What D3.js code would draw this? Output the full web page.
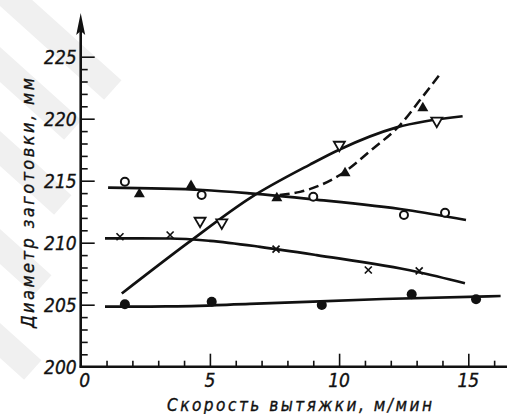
<!DOCTYPE html>
<html>
<head>
<meta charset="utf-8">
<script src="https://cdn.jsdelivr.net/npm/d3@7"></script>
<style>
  body { margin: 0; background: #fff; }
  svg { display: block; }
  text { font-family: "DejaVu Sans Condensed", "DejaVu Sans", sans-serif; font-style: italic; fill: #111; stroke: #111; stroke-width: 0.35; }
</style>
</head>
<body>
<svg id="chart" width="509" height="414"></svg>
<script>
// points: [speed m/min, diameter mm]
var openCircles = [[1.71,214.92],[4.68,213.85],[9.0,213.71],[12.51,212.23],[14.10,212.42]];
var filledTri   = [[2.27,213.98],[4.27,214.65],[7.59,213.66],[10.23,215.68],[13.24,220.92]];
var openTriDown = [[4.62,211.69],[5.46,211.56],[10.01,217.82],[13.78,219.76]];
var crosses     = [[1.52,210.48],[3.46,210.62],[7.56,209.49],[11.13,207.80],[13.10,207.72]];
var filledDots  = [[1.71,205.03],[5.07,205.24],[9.33,204.98],[12.81,205.84],[15.30,205.44]];

// fitted curves
var curveCircles = [[1.06,214.44],[4.73,214.25],[6.55,213.98],[9.0,213.5],[12.63,212.64],[14.91,211.83]];
var curveDashed  = [[7.7,213.85],[8.49,214.1],[10.03,215.46],[11.32,217.6],[12.36,219.49],[13.13,221.5],[13.88,223.52]];
var curveTriDown = [[1.59,205.9],[4.16,210.0],[6.55,213.6],[8.87,216.3],[10.0,217.5],[12.23,219.3],[14.78,220.2]];
var curveCrosses = [[0.94,210.35],[3.46,210.34],[5.0,210.15],[6.94,209.67],[9.13,209.0],[13.0,207.66],[14.87,206.73]];
var curveDots    = [[0.94,204.84],[3.3,204.86],[6.55,205.06],[11.7,205.46],[16.25,205.7]];

var xTicks = [0, 5, 10, 15];
var yTicks = [200, 205, 210, 215, 220, 225];

var svg = d3.select("#chart");

// faint watermark bands of the scan
var wm = svg.append("g").attr("fill", "#f0f0f0");
[[-30,20],[10,-20],[-40,95],[-60,175],[-70,260]].forEach(function(p){
  wm.append("rect").attr("x", p[0]).attr("y", p[1]).attr("width", 150).attr("height", 26)
    .attr("transform", "rotate(42," + p[0] + "," + p[1] + ")");
});

var x = d3.scaleLinear().domain([0, 15]).range([80.7, 468.3]);
var y = d3.scaleLinear().domain([200, 225]).range([366.7, 56.7]);

// y axis
var yAxis = svg.append("g").attr("transform", "translate(" + x(0) + ",0)");
yAxis.call(d3.axisRight(y).tickValues(d3.range(200, 226, 1)).tickSize(7).tickFormat(""));
yAxis.selectAll(".tick line").attr("stroke", "#111").attr("stroke-width", 1.6)
  .attr("x2", function(d){ return d % 5 === 0 ? 14 : 7; });
yAxis.select(".domain").remove();
svg.append("line").attr("x1", x(0)).attr("x2", x(0)).attr("y1", y(200) + 1).attr("y2", 22)
  .attr("stroke", "#111").attr("stroke-width", 2.6);
svg.append("path").attr("d", d3.line()([[x(0), 13], [x(0) + 4.5, 35], [x(0), 31], [x(0) - 4.5, 35]]))
  .attr("fill", "#111");
svg.selectAll(".ylab").data(yTicks).enter().append("text")
  .attr("x", x(0) - 4).attr("y", function(d){ return y(d) + 7; })
  .attr("text-anchor", "end").attr("font-size", 19).text(function(d){ return d; });

// x axis
var xAxis = svg.append("g").attr("transform", "translate(0," + y(200) + ")");
xAxis.call(d3.axisTop(x).tickValues(d3.range(1, 17, 1)).tickSize(6).tickFormat(""));
xAxis.selectAll(".tick line").attr("stroke", "#111").attr("stroke-width", 1.6)
  .attr("y2", function(d){ return d % 5 === 0 ? -13 : -6; });
xAxis.select(".domain").remove();
svg.append("line").attr("x1", x(0) - 1).attr("x2", 507).attr("y1", y(200)).attr("y2", y(200))
  .attr("stroke", "#111").attr("stroke-width", 2.6);
svg.selectAll(".xlab").data(xTicks).enter().append("text")
  .attr("x", function(d){ return x(d) + (d === 0 ? 4 : 0); }).attr("y", 387)
  .attr("text-anchor", "middle").attr("font-size", 19).text(function(d){ return d; });

// axis titles
svg.append("text").attr("x", 167).attr("y", 411).attr("font-size", 17)
  .attr("textLength", 265).attr("lengthAdjust", "spacing")
  .text("Скорость вытяжки, м/мин");
svg.append("text").attr("transform", "translate(34,328) rotate(-90)").attr("font-size", 18)
  .attr("textLength", 250).attr("lengthAdjust", "spacing")
  .text("Диаметр  заготовки, мм");

// curves
var line = d3.line().x(function(d){ return x(d[0]); }).y(function(d){ return y(d[1]); })
  .curve(d3.curveMonotoneX);
[curveCircles, curveTriDown, curveCrosses, curveDots].forEach(function(c){
  svg.append("path").attr("d", line(c)).attr("fill", "none").attr("stroke", "#111").attr("stroke-width", 2.7);
});
svg.append("path").attr("d", line(curveDashed)).attr("fill", "none").attr("stroke", "#111")
  .attr("stroke-width", 2.5).attr("stroke-dasharray", "10,5");

// markers
svg.selectAll(".oc").data(openCircles).enter().append("circle")
  .attr("cx", function(d){ return x(d[0]); }).attr("cy", function(d){ return y(d[1]); })
  .attr("r", 4).attr("fill", "#fff").attr("stroke", "#111").attr("stroke-width", 2);
svg.selectAll(".fd").data(filledDots).enter().append("circle")
  .attr("cx", function(d){ return x(d[0]); }).attr("cy", function(d){ return y(d[1]); })
  .attr("r", 5).attr("fill", "#111");
svg.selectAll(".ft").data(filledTri).enter().append("path")
  .attr("transform", function(d){ return "translate(" + x(d[0]) + "," + y(d[1]) + ")"; })
  .attr("d", "M0,-5.5L5.5,4L-5.5,4Z").attr("fill", "#111");
svg.selectAll(".ot").data(openTriDown).enter().append("path")
  .attr("transform", function(d){ return "translate(" + x(d[0]) + "," + y(d[1]) + ")"; })
  .attr("d", "M-5.5,-4L5.5,-4L0,5.5Z").attr("fill", "#fff").attr("stroke", "#111").attr("stroke-width", 1.8);
svg.selectAll(".cx").data(crosses).enter().append("path")
  .attr("transform", function(d){ return "translate(" + x(d[0]) + "," + y(d[1]) + ")"; })
  .attr("d", "M-3.5,-3.5L3.5,3.5M-3.5,3.5L3.5,-3.5").attr("stroke", "#111").attr("stroke-width", 1.7);
</script>
</body>
</html>
